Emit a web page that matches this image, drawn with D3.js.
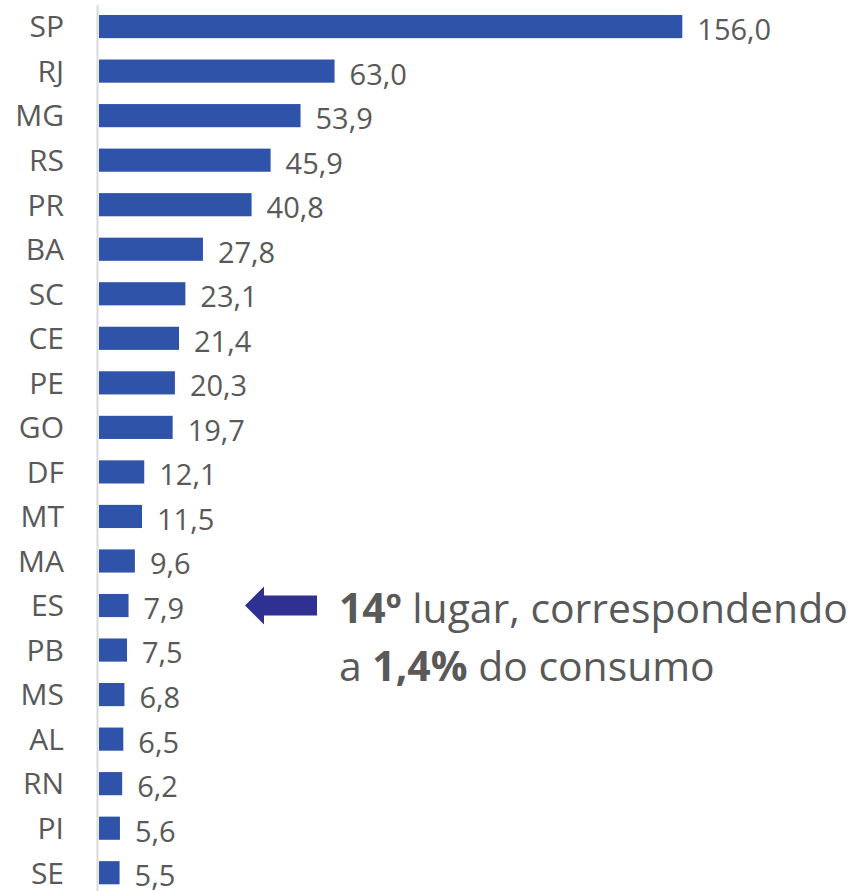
<!DOCTYPE html>
<html>
<head>
<meta charset="utf-8">
<script src="https://cdn.jsdelivr.net/npm/d3@7"></script>
<style>
	body { margin: 0; background: #fff; }
	.cat { font-family: "Open Sans", sans-serif; font-size: 30px; fill: #595959; }
	.val { font-family: "Open Sans", sans-serif; font-size: 29px; fill: #595959; }
	.note { font-family: "Open Sans", sans-serif; font-size: 42px; fill: #595959; }
</style>
</head>
<body>
<script>
let states = ["SP", "RJ", "MG", "RS", "PR", "BA", "SC", "CE", "PE", "GO",
	"DF", "MT", "MA", "ES", "PB", "MS", "AL", "RN", "PI", "SE"];
let values = [156.0, 63.0, 53.9, 45.9, 40.8, 27.8, 23.1, 21.4, 20.3, 19.7,
	12.1, 11.5, 9.6, 7.9, 7.5, 6.8, 6.5, 6.2, 5.6, 5.5];
let highlight = "ES";
let note_line1 = [["14º", true], [" lugar, correspondendo", false]];
let note_line2 = [["a ", false], ["1,4%", true], [" do consumo", false]];

let width = 856;
let height = 891;

let svg = d3.select("body").append("svg")
	.attr("width", width)
	.attr("height", height);

let data = d3.zip(states, values);

// scales
let x = d3.scaleLinear()
	.domain([0, 156])
	.range([99, 682.3]);

let y = d3.scaleBand()
	.domain(states)
	.range([4.3, 895])
	.paddingInner(0.48)
	.paddingOuter(0.24);

// vertical axis line
svg.append("line")
	.attr("x1", 97.5).attr("x2", 97.5)
	.attr("y1", 5).attr("y2", height)
	.attr("stroke", "#d9d9d9")
	.attr("stroke-width", 2);

// bars
svg.selectAll(".bar").data(data).enter().append("rect")
	.attr("class", "bar")
	.attr("x", x(0))
	.attr("y", function(d) { return y(d[0]); })
	.attr("width", function(d) { return x(d[1]) - x(0); })
	.attr("height", y.bandwidth())
	.attr("fill", "#2e53a8");

// category labels
svg.selectAll(".cat").data(data).enter().append("text")
	.attr("class", "cat")
	.attr("x", 64)
	.attr("y", function(d) { return y(d[0]) + y.bandwidth() / 2; })
	.attr("dy", "0.36em")
	.attr("text-anchor", "end")
	.text(function(d) { return d[0]; });

// value labels
svg.selectAll(".val").data(data).enter().append("text")
	.attr("class", "val")
	.attr("x", function(d) { return x(d[1]) + 15; })
	.attr("y", function(d) { return y(d[0]) + y.bandwidth() / 2 + 3; })
	.attr("dy", "0.36em")
	.text(function(d) { return d[1].toFixed(1).replace(".", ","); });

// arrow pointing at highlighted state
let ay = y(highlight) + y.bandwidth() / 2;
svg.append("path")
	.attr("d", "M245," + ay + " L264," + (ay - 19) + " L264," + (ay - 10) +
		" L317," + (ay - 10) + " L317," + (ay + 10) + " L264," + (ay + 10) +
		" L264," + (ay + 19) + " Z")
	.attr("fill", "#2e3192");

// annotation
function addLine(parts, yy) {
	let t = svg.append("text")
		.attr("class", "note")
		.attr("x", 339)
		.attr("y", yy);
	parts.forEach(function(p) {
		t.append("tspan")
			.attr("font-weight", p[1] ? "bold" : "normal")
			.text(p[0]);
	});
	return t;
}
let l1 = addLine(note_line1, 623);
let l2 = addLine(note_line2, 681);

// shrink the note so the first line ends where the reference does
let fs = 42 * 509 / l1.node().getComputedTextLength();
l1.style("font-size", fs + "px");
l2.style("font-size", fs + "px");
</script>
</body>
</html>
